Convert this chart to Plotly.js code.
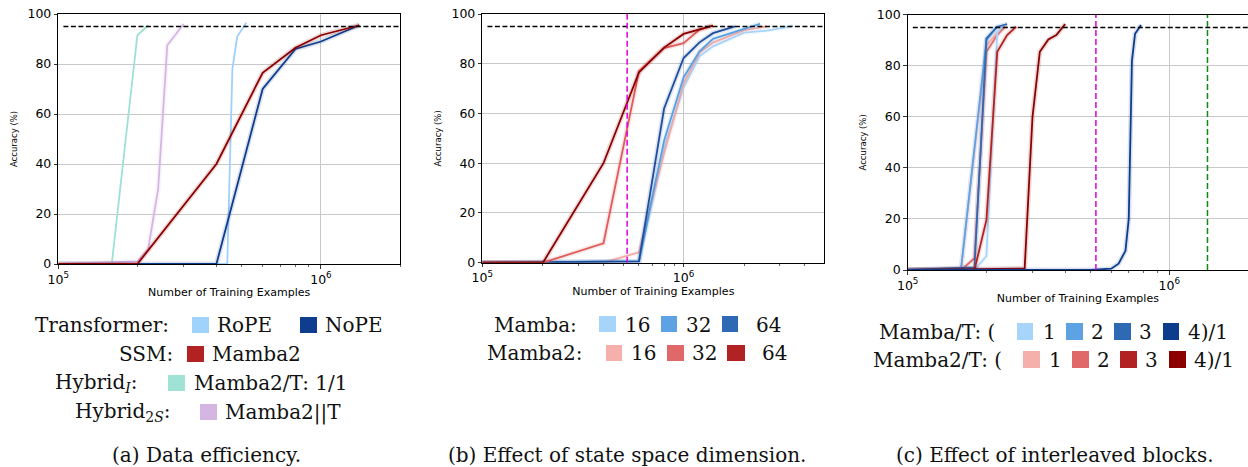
<!DOCTYPE html>
<html>
<head>
<meta charset="utf-8">
<script src="https://cdn.plot.ly/plotly-3.0.1.min.js"></script>
<style>html,body{margin:0;padding:0;background:#fff;}#chart{width:1248px;height:467px;}</style>
</head>
<body>
<div id="chart"></div>
<script>
// ---------- Panel (a): data efficiency ----------
const a_rope_x   = [1e5, 4.4e5, 4.6e5, 4.8e5, 5.2e5];
const a_rope_y   = [0, 0, 78, 91, 96.5];
const a_nope_x   = [1e5, 4e5, 6e5, 8e5, 1e6, 1.4e6];
const a_nope_y   = [0, 0, 70, 86, 89, 95.5];
const a_mamba2_x = [1e5, 2e5, 4e5, 6e5, 8e5, 1e6, 1.4e6];
const a_mamba2_y = [0, 0, 40, 76.5, 86.5, 91.5, 95.5];
const a_hybI_x   = [1e5, 1.6e5, 2e5, 2.2e5];
const a_hybI_y   = [0, 0.5, 91.5, 95.5];
const a_hyb2S_x  = [1e5, 2e5, 2.2e5, 2.4e5, 2.6e5, 3e5];
const a_hyb2S_y  = [0, 1, 6, 30, 87.5, 96];

// ---------- Panel (b): state space dimension ----------
const b_m16_x  = [1e5, 6e5, 8e5, 1e6, 1.2e6, 1.4e6, 2e6, 2.6e6, 3e6, 3.5e6];
const b_m16_y  = [0, 0.5, 46, 70.5, 83, 87, 92.5, 93.3, 94.2, 95.2];
const b_m32_x  = [1e5, 6e5, 8e5, 1e6, 1.2e6, 1.4e6, 2e6, 2.4e6];
const b_m32_y  = [0, 0.5, 49, 74.5, 85, 90, 94, 96];
const b_m64_x  = [1e5, 6e5, 8e5, 1e6, 1.2e6, 1.4e6, 1.8e6];
const b_m64_y  = [0, 0.5, 62, 82.3, 88.6, 92.3, 95];
const b_m2_16_x = [1e5, 4e5, 6e5, 8e5, 1e6, 1.2e6, 1.4e6, 2e6, 2.6e6];
const b_m2_16_y = [0, 0, 4.2, 44, 72, 84.5, 88.5, 93.5, 95];
const b_m2_32_x = [1e5, 2e5, 4e5, 6e5, 8e5, 1e6, 1.2e6, 1.4e6];
const b_m2_32_y = [0, 0, 7.8, 77, 86.3, 88.3, 93.7, 95.3];
const b_m2_64_x = [1e5, 2e5, 4e5, 6e5, 8e5, 1e6, 1.4e6];
const b_m2_64_y = [0, 0, 40, 76.5, 86.5, 92, 95.3];

// ---------- Panel (c): interleaved blocks ----------
const c_mt1_x = [1e5, 1.8e5, 2e5, 2.2e5, 2.3e5];
const c_mt1_y = [0, 0, 5.5, 93, 95.5];
const c_mt2_x = [1e5, 1.6e5, 2e5, 2.2e5];
const c_mt2_y = [0, 0.6, 90, 95.5];
const c_mt3_x = [1e5, 1.8e5, 2e5, 2.2e5, 2.4e5];
const c_mt3_y = [0, 1, 90.7, 95.3, 96.3];
const c_mt4_x = [1e5, 5e5, 6e5, 6.4e5, 6.8e5, 7e5, 7.2e5, 7.4e5, 7.8e5];
const c_mt4_y = [0, 0, 0.5, 2.5, 7.5, 20, 82, 92.5, 96];
const c_m2t1_x = [1e5, 1.6e5, 2e5, 2.2e5, 2.4e5];
const c_m2t1_y = [0, 0.5, 88, 93, 95.5];
const c_m2t2_x = [1e5, 1.6e5, 1.8e5, 2e5, 2.2e5, 2.35e5];
const c_m2t2_y = [0, 0, 4.6, 85.5, 92, 95.3];
const c_m2t3_x = [1e5, 1.8e5, 2e5, 2.2e5, 2.4e5, 2.6e5];
const c_m2t3_y = [0, 0, 19.6, 85.5, 92, 95.3];
const c_m2t4_x = [1e5, 2.8e5, 3e5, 3.2e5, 3.45e5, 3.7e5, 4e5];
const c_m2t4_y = [0, 0.6, 60, 85.5, 90.3, 92, 96.3];

// reference lines
const targetAcc = 95;
const magentaX = 524288;
const greenX = 1.4e6;

// tick labels
const majorTickVals = [1e5, 1e6];
const majorTickText = ['10<sup>5</sup>', '10<sup>6</sup>'];
const minorTickVals = [2e5,3e5,4e5,5e5,6e5,7e5,8e5,9e5,2e6,3e6,4e6];
const yTickVals = [0, 20, 40, 60, 80, 100];

const traces = [];
function addLine(xs, ys, color, ax, band) {
  const xa = ax === 1 ? 'x' : 'x' + ax;
  const ya = ax === 1 ? 'y' : 'y' + ax;
  if (band) {
    traces.push({x: xs, y: ys, xaxis: xa, yaxis: ya, mode: 'lines', type: 'scatter',
      line: {color: color, width: 5}, opacity: 0.15, hoverinfo: 'skip', showlegend: false});
  }
  traces.push({x: xs, y: ys, xaxis: xa, yaxis: ya, mode: 'lines', type: 'scatter',
    line: {color: color, width: 1.8}, showlegend: false});
}

// panel a
addLine(a_hybI_x, a_hybI_y, '#9fe0d4', 1, false);
addLine(a_hyb2S_x, a_hyb2S_y, '#d5b6e3', 1, true);
addLine(a_rope_x, a_rope_y, '#9fd0fb', 1, false);
addLine(a_nope_x, a_nope_y, '#0d3d8c', 1, true);
addLine(a_mamba2_x, a_mamba2_y, '#8b0000', 1, true);
// panel b
addLine(b_m16_x, b_m16_y, '#a6d4fa', 2, true);
addLine(b_m2_16_x, b_m2_16_y, '#f5aaa5', 2, true);
addLine(b_m32_x, b_m32_y, '#5aa0e0', 2, true);
addLine(b_m64_x, b_m64_y, '#1f4e9c', 2, true);
addLine(b_m2_32_x, b_m2_32_y, '#e05c5c', 2, true);
addLine(b_m2_64_x, b_m2_64_y, '#8b0000', 2, true);
// panel c
addLine(c_m2t1_x, c_m2t1_y, '#f5b0ab', 3, true);
addLine(c_m2t2_x, c_m2t2_y, '#e06868', 3, true);
addLine(c_mt1_x, c_mt1_y, '#a6d4fa', 3, true);
addLine(c_mt2_x, c_mt2_y, '#5da3e4', 3, true);
addLine(c_mt3_x, c_mt3_y, '#2e6ab3', 3, true);
addLine(c_m2t3_x, c_m2t3_y, '#b22222', 3, true);
addLine(c_m2t4_x, c_m2t4_y, '#8b0000', 3, true);
addLine(c_mt4_x, c_mt4_y, '#0b3d8c', 3, true);

const W = 1248, H = 467;
const px = v => v / W;
const py = v => 1 - v / H;

const tickFont = {family: 'DejaVu Sans', size: 12.5, color: '#000'};
function xAxis(x0, x1, range) {
  return {
    type: 'log', domain: [px(x0), px(x1)], range: range,
    tickmode: 'array', tickvals: majorTickVals, ticktext: majorTickText,
    ticks: 'outside', ticklen: 3.5, tickwidth: 0.8, tickcolor: '#000',
    minor: {tickmode: 'array', tickvals: minorTickVals, ticks: 'outside', ticklen: 2, tickwidth: 0.6, tickcolor: '#000', showgrid: false},
    showgrid: true, gridcolor: '#c8c8c8', gridwidth: 1,
    showline: true, linecolor: '#000', linewidth: 1, mirror: true, zeroline: false,
    tickfont: tickFont,
    title: {text: 'Number of Training Examples', font: {family: 'DejaVu Sans', size: 11, color: '#000'}, standoff: 2}
  };
}
function yAxis(y0, y1, anchor) {
  return {
    domain: [py(y1), py(y0)], range: [0, 100], anchor: anchor,
    tickmode: 'array', tickvals: yTickVals,
    ticks: 'outside', ticklen: 3.5, tickwidth: 0.8, tickcolor: '#000',
    showgrid: true, gridcolor: '#c8c8c8', gridwidth: 1,
    showline: true, linecolor: '#000', linewidth: 1, mirror: true, zeroline: false,
    tickfont: tickFont,
    title: {text: 'Accuracy (%)', font: {family: 'DejaVu Sans', size: 8.5, color: '#000'}, standoff: 8}
  };
}

const layout = {
  width: W, height: H,
  margin: {l: 0, r: 0, t: 0, b: 0},
  paper_bgcolor: '#fff', plot_bgcolor: '#fff',
  showlegend: false,
  xaxis: Object.assign(xAxis(58.3, 400, [5, Math.log10(2e6)]), {anchor: 'y'}),
  yaxis: yAxis(14, 264, 'x'),
  xaxis2: Object.assign(xAxis(482.3, 824.3, [5, Math.log10(5e6)]), {anchor: 'y2'}),
  yaxis2: yAxis(14, 262.7, 'x2'),
  xaxis3: Object.assign(xAxis(907.7, 1248, [5, Math.log10(2e6)]), {anchor: 'y3'}),
  yaxis3: yAxis(14.7, 270, 'x3'),
  shapes: [],
  annotations: []
};

// reference lines
[['x', 'y'], ['x2', 'y2'], ['x3', 'y3']].forEach(([xa, ya]) => {
  layout.shapes.push({type: 'line', xref: xa + ' domain', yref: ya, x0: 0.015, x1: 1, y0: targetAcc, y1: targetAcc,
    line: {color: '#000', width: 1.5, dash: '5px,2.5px'}});
});
layout.shapes.push({type: 'line', xref: 'x2', yref: 'y2 domain', x0: magentaX, x1: magentaX, y0: 0, y1: 1,
  line: {color: '#dd00dd', width: 1.5, dash: '6px,3px'}});
layout.shapes.push({type: 'line', xref: 'x3', yref: 'y3 domain', x0: magentaX, x1: magentaX, y0: 0, y1: 1,
  line: {color: '#dd00dd', width: 1.5, dash: '6px,3px'}});
layout.shapes.push({type: 'line', xref: 'x3', yref: 'y3 domain', x0: greenX, x1: greenX, y0: 0, y1: 1,
  line: {color: '#108a10', width: 1.5, dash: '6px,3px'}});

// legends & captions
const serif = {family: 'DejaVu Serif', size: 20, color: '#111'};
function txt(x, y, text, anchor) {
  layout.annotations.push({xref: 'paper', yref: 'paper', x: px(x), y: py(y), text: text,
    showarrow: false, xanchor: anchor || 'left', yanchor: 'middle', font: serif});
}
function sw(x0, x1, y0, y1, color) {
  layout.shapes.push({type: 'rect', xref: 'paper', yref: 'paper', x0: px(x0), x1: px(x1), y0: py(y1), y1: py(y0),
    fillcolor: color, line: {width: 0}});
}
// (a)
txt(33, 325, 'Transformer:'); sw(192, 209, 317, 333, '#9fd3fc'); txt(215, 325, 'RoPE');
sw(300, 317, 317, 333, '#0d3d8c'); txt(323, 325, 'NoPE');
txt(117, 354, 'SSM:'); sw(187, 204, 346, 362, '#b22222'); txt(210, 354, 'Mamba2');
txt(53, 383, 'Hybrid<sub><i>I</i></sub>:'); sw(168, 185, 375, 391, '#a1e2d7'); txt(192, 383, 'Mamba2/T: 1/1');
txt(73, 412, 'Hybrid<sub>2<i>S</i></sub>:'); sw(200, 217, 404, 420, '#d5b6e3'); txt(223, 412, 'Mamba2||T');
txt(206, 455, '(a) Data efficiency.', 'center');
// (b)
txt(492, 325, 'Mamba:'); sw(599, 616, 316, 332, '#a6d4fa'); txt(623, 325, '16');
sw(661, 677, 316, 332, '#5da3e4'); txt(684, 325, '32');
sw(722, 738, 316, 332, '#2e6ab3'); txt(754, 325, '64');
txt(485, 353, 'Mamba2:'); sw(606, 622, 345, 361, '#f5b0ab'); txt(629, 353, '16');
sw(667, 684, 345, 361, '#e06868'); txt(690, 353, '32');
sw(727, 745, 345, 361, '#b22222'); txt(760, 353, '64');
txt(627, 455, '(b) Effect of state space dimension.', 'center');
// (c)
txt(877, 332, 'Mamba/T: ('); sw(1017, 1033, 323, 340, '#a6d4fa'); txt(1041, 332, '1');
sw(1066, 1083, 323, 340, '#5da3e4'); txt(1089, 332, '2');
sw(1114, 1131, 323, 340, '#2e6ab3'); txt(1137, 332, '3');
sw(1163, 1179, 323, 340, '#0b3d8c'); txt(1186, 332, '4)/1');
txt(871, 360, 'Mamba2/T: ('); sw(1023, 1040, 351, 368, '#f5b0ab'); txt(1047, 360, '1');
sw(1072, 1089, 351, 368, '#e06868'); txt(1095, 360, '2');
sw(1120, 1137, 351, 368, '#b22222'); txt(1143, 360, '3');
sw(1169, 1186, 351, 368, '#8b0000'); txt(1192, 360, '4)/1');
txt(1055, 455, '(c) Effect of interleaved blocks.', 'center');

Plotly.newPlot('chart', traces, layout, {staticPlot: true, displayModeBar: false});
</script>
</body>
</html>
